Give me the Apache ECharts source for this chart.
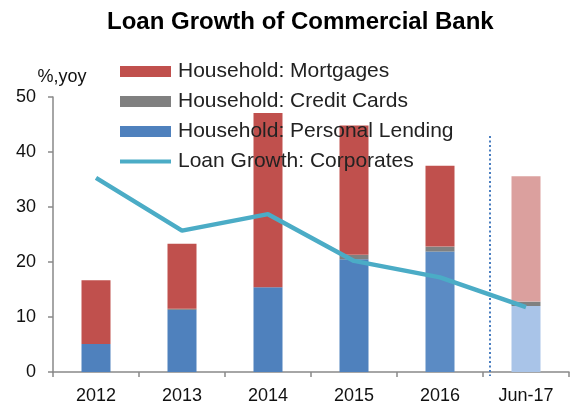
<!DOCTYPE html>
<html>
<head>
<meta charset="utf-8">
<script src="https://cdn.jsdelivr.net/npm/echarts@6/dist/echarts.min.js"></script>
<style>
  html, body { margin: 0; padding: 0; background: #fff; }
  #chart { width: 571px; height: 406px; }
</style>
</head>
<body>
<div id="chart"></div>
<script>
// Loan growth by segment, % yoy
var categories = ['2012', '2013', '2014', '2015', '2016', 'Jun-17'];
var personalLending = [5.1, 11.3, 15.4, 20.5, 21.9, 12.0];
var creditCards = [0, 0.2, 0, 0.8, 0.9, 0.8];
var mortgages = [11.6, 11.8, 31.7, 23.5, 14.7, 22.8];
var corporates = [35.3, 25.7, 28.7, 20.2, 17.2, 11.8];
var yTicks = [0, 10, 20, 30, 40, 50];

var FONT = '"Liberation Sans", Arial, sans-serif';

// Colours per category; the latest (half-year) bar is drawn in lighter tints
var blueColors = ['#4F81BD', '#4F81BD', '#4F81BD', '#4F81BD', '#5B8BC4', '#A9C4E8'];
var greyColors = ['#808080', '#808080', '#808080', '#808080', '#808080', '#808080'];
var redColors = ['#C0504D', '#C0504D', '#C0504D', '#C0504D', '#C0504D', '#DBA09E'];

function coloured(values, colors) {
  return values.map(function (v, i) {
    return { value: v, itemStyle: { color: colors[i] } };
  });
}

var chart = echarts.init(document.getElementById('chart'), null, { renderer: 'canvas' });

chart.setOption({
  animation: false,
  backgroundColor: '#ffffff',
  title: {
    text: 'Loan Growth of Commercial Bank',
    left: 107,
    top: 10,
    padding: 0,
    textStyle: { fontFamily: FONT, fontWeight: 'bold', fontSize: 24, color: '#000' }
  },
  legend: {
    orient: 'vertical',
    left: 120,
    top: 61,
    padding: 0,
    itemWidth: 51,
    itemHeight: 11,
    itemGap: 9,
    textStyle: { fontFamily: FONT, fontSize: 21, lineHeight: 21, color: '#222', padding: [0, 0, 0, 2] },
    data: [
      { name: 'Household: Mortgages', icon: 'rect' },
      { name: 'Household: Credit Cards', icon: 'rect' },
      { name: 'Household: Personal Lending', icon: 'rect' },
      { name: 'Loan Growth: Corporates', icon: 'path://M0,4L51,4L51,8L0,8Z' }
    ]
  },
  grid: { left: 53, right: 2, top: 97, bottom: 34, containLabel: false },
  xAxis: {
    type: 'category',
    data: categories,
    boundaryGap: true,
    axisLine: { lineStyle: { color: '#898989', width: 1.5 } },
    axisTick: { show: true, length: 5, alignWithLabel: false, lineStyle: { color: '#898989', width: 1.5 } },
    axisLabel: { fontFamily: FONT, fontSize: 18, color: '#111', margin: 15 }
  },
  yAxis: {
    type: 'value',
    min: yTicks[0],
    max: yTicks[yTicks.length - 1],
    interval: 10,
    name: '%,yoy',
    nameLocation: 'end',
    nameGap: 11,
    nameTextStyle: { fontFamily: FONT, fontSize: 18, color: '#111', align: 'center', padding: [0, 0, 0, 18] },
    axisLine: { show: true, lineStyle: { color: '#898989', width: 1.5 } },
    axisTick: { show: true, length: 5, lineStyle: { color: '#898989', width: 1.5 } },
    axisLabel: { fontFamily: FONT, fontSize: 18, color: '#111', margin: 17 },
    splitLine: { show: false }
  },
  series: [
    {
      name: 'Household: Personal Lending',
      type: 'bar',
      stack: 'household',
      barWidth: 29,
      color: '#4F81BD',
      data: coloured(personalLending, blueColors)
    },
    {
      name: 'Household: Credit Cards',
      type: 'bar',
      stack: 'household',
      barWidth: 29,
      color: '#808080',
      data: coloured(creditCards, greyColors)
    },
    {
      name: 'Household: Mortgages',
      type: 'bar',
      stack: 'household',
      barWidth: 29,
      color: '#C0504D',
      data: coloured(mortgages, redColors)
    },
    {
      name: 'Loan Growth: Corporates',
      type: 'line',
      color: '#4BACC6',
      symbol: 'none',
      lineStyle: { width: 4.5, color: '#4BACC6' },
      data: corporates,
      z: 5,
      markLine: {
        silent: true,
        symbol: ['none', 'none'],
        label: { show: false },
        lineStyle: { type: [2, 2.5], color: '#4A7EC0', width: 2 },
        data: [[{ x: 490, y: 136 }, { x: 490, y: 376 }]]
      }
    }
  ]
});
</script>
</body>
</html>
